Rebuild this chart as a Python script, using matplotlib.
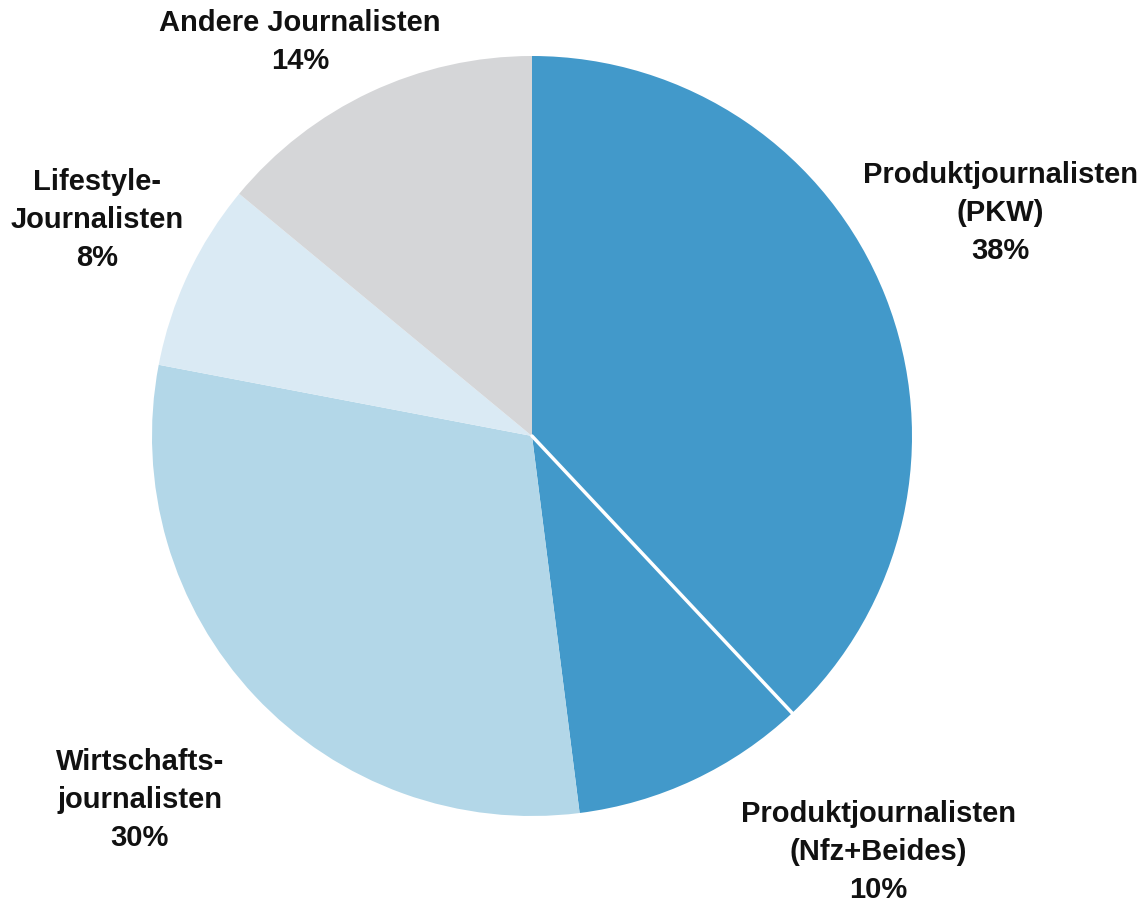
import numpy as np
import matplotlib.pyplot as plt

# Slice data, clockwise from the top.
labels = ["Produktjournalisten\n(PKW)", "Produktjournalisten\n(Nfz+Beides)",
          "Wirtschafts-\njournalisten", "Lifestyle-\nJournalisten", "Andere Journalisten"]
shares = [38, 10, 30, 8, 14]
colors = ["#4299CA", "#4299CA", "#B3D7E8", "#DAEAF4", "#D5D6D8"]

# Where each label goes (data units, pie radius = 1).
label_x = [1.232, 0.911, -1.032, -1.145, -0.611]
label_y = [0.589, -1.092, -0.955, 0.571, 1.039]

plt.rcParams['font.family'] = ['Liberation Sans', 'DejaVu Sans']

fig = plt.figure(figsize=(11.39, 9.04), dpi=100)
ax = fig.add_axes([0, 0, 1, 1])

wedges, _ = ax.pie(shares, colors=colors, startangle=90, counterclock=False,
                   radius=1, center=(0, 0), wedgeprops=dict(linewidth=0))

# Thin white separator between the two product slices.
ang = np.deg2rad(wedges[0].theta1)
ax.plot([0, 1.04 * np.cos(ang)], [0, 1.04 * np.sin(ang)], color="white",
        lw=2.5, solid_capstyle="round", zorder=3)

for lab, val, x, y in zip(labels, shares, label_x, label_y):
    ax.text(x, y, f"{lab}\n{val}%", ha="center", va="center", fontsize=21,
            fontweight="bold", linespacing=1.45, color="#111111")

ax.set_xlim(-532 / 380, (1139 - 532) / 380)
ax.set_ylim(-(904 - 437) / 380, 437 / 380)
ax.set_aspect("equal")
ax.axis("off")

fig.savefig("out.png", dpi=100)
